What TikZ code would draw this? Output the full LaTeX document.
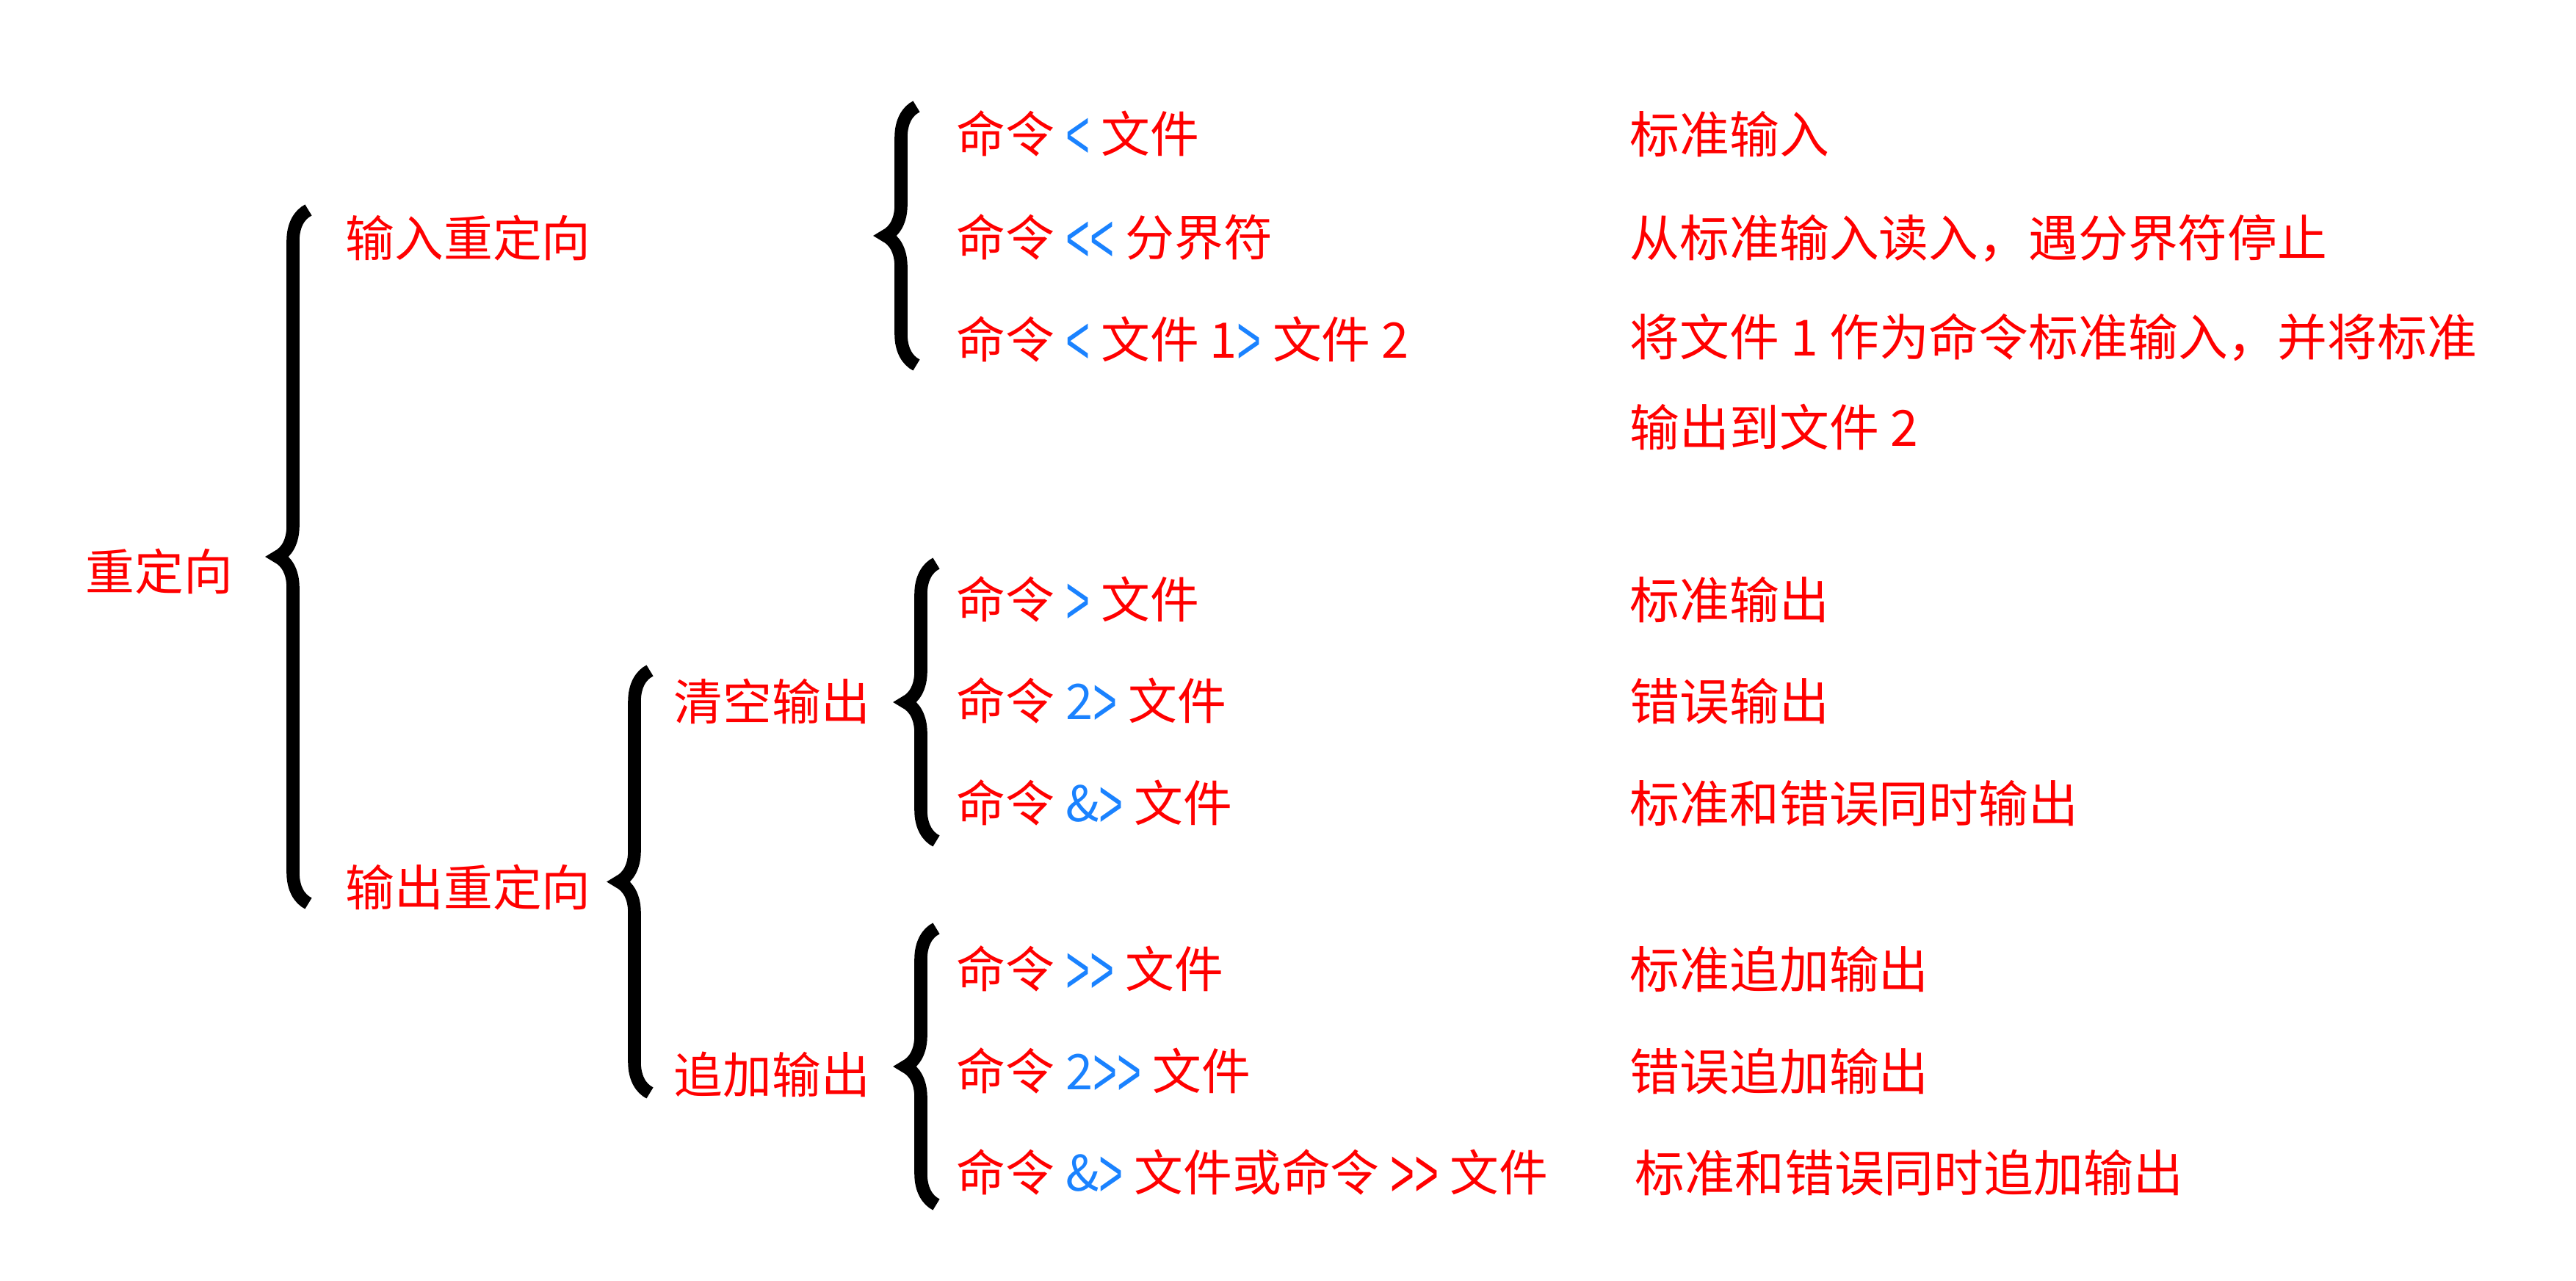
\documentclass[tikz,border=0pt]{standalone}
\usepackage{fontspec}
\setmainfont{Noto Sans CJK SC}[Ligatures=TeXOff]
\newfontfamily\chfont{Liberation Sans}[Ligatures=TeXOff]
\usepackage{xcolor}
\usepackage{graphicx}
\usetikzlibrary{decorations.pathreplacing}

\definecolor{txtred}{HTML}{FF0000}
\definecolor{opblue}{HTML}{1A82FF}
\newcommand{\op}[1]{\textcolor{opblue}{#1}}
\newcommand{\chl}{\raisebox{-0.12em}{\scalebox{0.85}[1.4]{\chfont <}}}
\newcommand{\chr}{\raisebox{-0.12em}{\scalebox{0.85}[1.4]{\chfont >}}}

\tikzset{
  lbl/.style={anchor=west,inner sep=0pt,text=txtred,font=\fontsize{19}{23}\selectfont},
  desc/.style={lbl,font=\fontsize{19.3}{23}\selectfont},
  bigbrace/.style={decorate,decoration={brace,amplitude=0.42cm},line width=5pt},
}

\begin{document}
\begin{tikzpicture}
            \useasboundingbox (0,0) rectangle (35.08,17.44);

            % left column
            \node (root) at (1.16,9.66) [lbl] {重定向};
            \node (in) at (4.70,14.20) [lbl] {输入重定向};
            \node (out) at (4.70,5.36) [lbl] {输出重定向};
            \node (clr) at (9.17,7.89) [lbl] {清空输出};
            \node (app) at (9.17,2.81) [lbl] {追加输出};

            % commands
            \node (c1) at (13.02,15.61) [lbl] {命令 \op{\chl} 文件};
            \node (c2) at (13.02,14.20) [lbl] {命令 \op{\chl\chl} 分界符};
            \node (c3) at (13.02,12.81) [lbl] {命令 \op{\chl} 文件 1\op{\chr} 文件 2};
            \node (c4) at (13.02,9.27) [lbl] {命令 \op{\chr} 文件};
            \node (c5) at (13.02,7.89) [lbl] {命令 \op{2\chr} 文件};
            \node (c6) at (13.02,6.50) [lbl] {命令 \op{\&\chr} 文件};
            \node (c7) at (13.02,4.24) [lbl] {命令 \op{\chr\chr} 文件};
            \node (c8) at (13.02,2.85) [lbl] {命令 \op{2\chr\chr} 文件};
            \node (c9) at (13.02,1.47) [lbl] {命令 \op{\&\chr} 文件或命令 \chr\chr{} 文件};

            % descriptions
            \node (d1) at (22.19,15.61) [desc] {标准输入};
            \node (d2) at (22.19,14.20) [desc] {从标准输入读入，遇分界符停止};
            \node (d3) at (22.19,12.85) [desc] {将文件 1 作为命令标准输入，并将标准};
            \node (d3b) at (22.19,11.62) [desc] {输出到文件 2};
            \node (d4) at (22.19,9.27) [desc] {标准输出};
            \node (d5) at (22.19,7.89) [desc] {错误输出};
            \node (d6) at (22.19,6.50) [desc] {标准和错误同时输出};
            \node (d7) at (22.19,4.24) [desc] {标准追加输出};
            \node (d8) at (22.19,2.85) [desc] {错误追加输出};
            \node (d9) at (22.26,1.47) [desc] {标准和错误同时追加输出};

            % braces
            \coordinate (ba1) at (4.20,5.14);  \coordinate (ba2) at (4.20,14.58);
            \coordinate (bb1) at (12.48,12.47); \coordinate (bb2) at (12.48,15.99);
            \coordinate (bc1) at (8.85,2.56);  \coordinate (bc2) at (8.85,8.31);
            \coordinate (bd1) at (12.75,5.99); \coordinate (bd2) at (12.75,9.77);
            \coordinate (be1) at (12.75,1.04); \coordinate (be2) at (12.75,4.80);

            \draw[bigbrace] (ba1) -- (ba2);
            \draw[bigbrace] (bb1) -- (bb2);
            \draw[bigbrace] (bc1) -- (bc2);
            \draw[bigbrace] (bd1) -- (bd2);
            \draw[bigbrace] (be1) -- (be2);
        \end{tikzpicture}
\end{document}
